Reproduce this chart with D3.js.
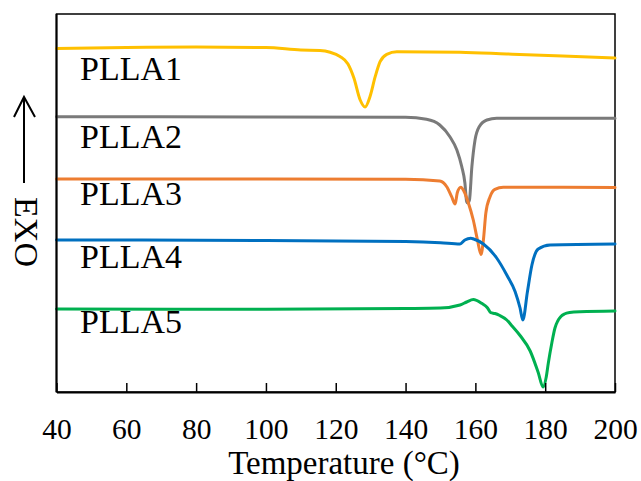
<!DOCTYPE html>
<html>
<head>
<meta charset="utf-8">
<script src="https://cdn.jsdelivr.net/npm/d3@7"></script>
<style>
  html, body { margin: 0; padding: 0; background: #fff; }
  svg { display: block; }
  text { font-family: "Liberation Serif", "Times New Roman", serif; fill: #000; }
</style>
</head>
<body>
<svg id="chart" width="641" height="481"></svg>
<script>
// ---- Data (temperature in °C, heat flow in arbitrary units, exo up) ----
const sampleNames = ["PLLA1", "PLLA2", "PLLA3", "PLLA4", "PLLA5"];
const xTicks = [40, 60, 80, 100, 120, 140, 160, 180, 200];

const plla1T = [40, 60, 80, 100, 110, 115.5, 118.4, 121.2, 123.5, 125.2, 127, 128.4, 129.8, 131.3, 132.7, 134.6, 137.5, 155.6, 169, 185, 200];
const plla1V = [34.35, 34.45, 34.5, 34.45, 34.2, 34.15, 33.97, 33.55, 32.8, 31.4, 29.2, 28.5, 29.53, 31.53, 33.03, 33.77, 34.03, 33.97, 33.8, 33.6, 33.4];

const plla2T = [40, 100, 140, 146, 149.8, 152.7, 154.7, 156.1, 157, 157.5, 157.8, 158.3, 159, 159.9, 161.1, 163.3, 166.1, 170, 200];
const plla2V = [27.53, 27.5, 27.47, 27.27, 26.7, 25.53, 24.2, 22.53, 20.9, 19.03, 18.9, 19.2, 22.53, 25.2, 26.53, 27.2, 27.37, 27.37, 27.37];

const plla3T = [40, 100, 140, 149.8, 151.8, 153.2, 154.2, 154.8, 155.8, 156.8, 158, 159.4, 160.6, 161.6, 162.3, 163, 164.2, 165.6, 168, 200];
const plla3V = [21.3, 21.3, 21.27, 21.1, 20.53, 19.53, 18.8, 19.9, 20.47, 20.03, 18.9, 17.2, 15.2, 13.75, 15.2, 17.9, 19.53, 20.27, 20.47, 20.45];

const plla4T = [40, 100, 140, 150, 155.6, 157, 158.7, 159.5, 162.3, 166.1, 169, 171.4, 172.8, 173.6, 174.9, 176.2, 178, 181.4, 200];
const plla4V = [15.2, 15.15, 15.05, 14.93, 14.8, 15.2, 15.37, 15.3, 14.8, 13.4, 11.7, 10.03, 8.4, 7.2, 10.0, 12.7, 14.3, 14.7, 14.8];

const plla5T = [40, 100, 140, 150, 155.6, 157.5, 159.4, 161.8, 163.5, 164.4, 165.6, 167, 169, 170.5, 172.8, 175.7, 178, 179.4, 180.3, 180.9, 181.9, 182.8, 183.6, 184.5, 185.5, 187, 190, 200];
const plla5V = [8.3, 8.27, 8.35, 8.4, 8.7, 9.0, 9.25, 8.87, 8.4, 7.93, 7.85, 7.65, 7.2, 6.6, 5.65, 4.1, 1.95, 0.5, 1.5, 2.9, 4.9, 6.4, 7.1, 7.55, 7.8, 7.95, 8.03, 8.1];

const seriesColors = ["#FFC000", "#7A7A7A", "#ED7D31", "#0070C0", "#00B050"];
const labelValues = [31.2, 24.4, 18.7, 12.4, 5.9]; // label baseline heights (a.u.)

// ---- Layout ----
const svg = d3.select("#chart");
const mLeft = 56.5, mRight = 615, mTop = 14, mBottom = 392;

const x = d3.scaleLinear().domain([40, 200]).range([mLeft, mRight]);
const y = d3.scaleLinear().domain([0, 37.8]).range([mBottom, mTop]);

const series = [
  {T: plla1T, V: plla1V},
  {T: plla2T, V: plla2V},
  {T: plla3T, V: plla3V},
  {T: plla4T, V: plla4V},
  {T: plla5T, V: plla5V}
];

const line = d3.line()
  .x(d => x(d[0]))
  .y(d => y(d[1]))
  .curve(d3.curveMonotoneX);

const plot = svg.append("g");

// frame
plot.append("rect")
  .attr("x", mLeft).attr("y", mTop)
  .attr("width", mRight - mLeft).attr("height", mBottom - mTop)
  .attr("fill", "none").attr("stroke", "#000").attr("stroke-width", 1.5);

// curves
series.forEach((s, i) => {
  const pts = s.T.map((t, j) => [t, s.V[j]]);
  plot.append("path")
    .datum(pts)
    .attr("d", line)
    .attr("fill", "none")
    .attr("stroke", seriesColors[i])
    .attr("stroke-width", 3)
    .attr("stroke-linejoin", "round")
    .attr("stroke-linecap", "round");
});

// labels
sampleNames.forEach((name, i) => {
  svg.append("text")
    .attr("x", 80)
    .attr("y", y(labelValues[i]))
    .attr("font-size", 34)
    .text(name);
});

// x axis
const xAxis = d3.axisBottom(x)
  .tickValues(xTicks)
  .tickSizeInner(-9)
  .tickSizeOuter(0)
  .tickPadding(0)
  .tickFormat(d3.format("d"));

const gx = svg.append("g")
  .attr("transform", `translate(0,${mBottom})`)
  .call(xAxis);
gx.select(".domain").attr("stroke", "#000").attr("stroke-width", 2);
gx.selectAll(".tick line").attr("stroke", "#000").attr("stroke-width", 1.5);
gx.selectAll(".tick text")
  .attr("y", 47)
  .attr("dy", null)
  .attr("font-size", 29.5)
  .attr("font-family", '"Liberation Serif", "Times New Roman", serif')
  .attr("fill", "#000");

// left axis line (heavier)
svg.append("line")
  .attr("x1", mLeft).attr("x2", mLeft)
  .attr("y1", mTop).attr("y2", mBottom)
  .attr("stroke", "#000").attr("stroke-width", 2);

// x title
svg.append("text")
  .attr("x", 344).attr("y", 474)
  .attr("text-anchor", "middle")
  .attr("font-size", 33)
  .text("Temperature (°C)");

// y label: arrow + EXO
const ay = svg.append("g").attr("stroke", "#000").attr("stroke-width", 2).attr("fill", "none");
ay.append("line").attr("x1", 24).attr("x2", 24).attr("y1", 183).attr("y2", 98);
ay.append("path").attr("d", "M14,117 L24,97 L35,117");

svg.append("text")
  .attr("transform", "translate(15,232) rotate(90)")
  .attr("text-anchor", "middle")
  .attr("font-size", 34)
  .text("EXO");
</script>
</body>
</html>
